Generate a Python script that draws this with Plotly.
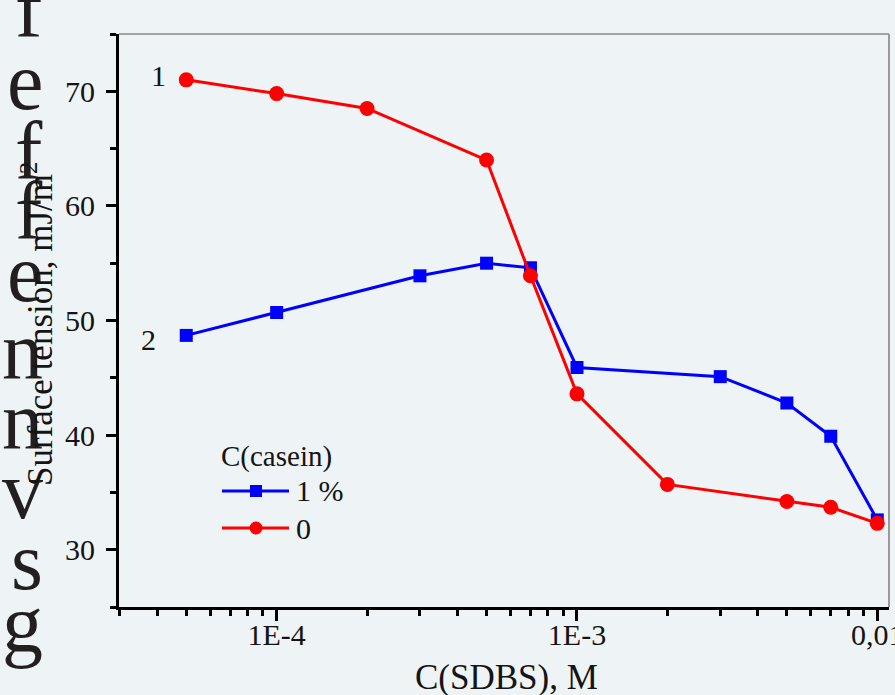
import plotly.graph_objects as go

# ---------------- data ----------------
x_casein = [5e-5, 1e-4, 3e-4, 5e-4, 7e-4, 1e-3, 3e-3, 5e-3, 7e-3, 1e-2]
y_casein = [48.7, 50.7, 53.9, 55.0, 54.6, 45.9, 45.1, 42.8, 39.9, 32.6]
x_water = [5e-5, 1e-4, 2e-4, 5e-4, 7e-4, 1e-3, 2e-3, 5e-3, 7e-3, 1e-2]
y_water = [71.0, 69.8, 68.5, 64.0, 53.9, 43.6, 35.7, 34.2, 33.7, 32.3]

x_tickvals = [1e-4, 1e-3, 1e-2]
x_ticktext = ["1E-4", "1E-3", "0,01"]
x_minor = [3e-5, 4e-5, 5e-5, 6e-5, 7e-5, 8e-5, 9e-5,
           2e-4, 3e-4, 4e-4, 5e-4, 6e-4, 7e-4, 8e-4, 9e-4,
           2e-3, 3e-3, 4e-3, 5e-3, 6e-3, 7e-3, 8e-3, 9e-3]
y_tickvals = [30, 40, 50, 60, 70]
y_minor = [25, 35, 45, 55, 65, 75]

series_names = ["1 %", "0"]
legend_title = "C(casein)"
curve_labels = ["1", "2"]
side_letters = ["f", "e", "f", "f", "e", "n", "n", "v", "s", "g"]

# ---------------- layout helpers ----------------
W, H = 895, 695
L, R, T, B = 119, 889, 34, 607
PW, PH = R - L, B - T

def px(x):
    return (x - L) / PW

def py(y):
    return (B - y) / PH

BLUE = "#0000ff"
RED = "#ff0000"
BG = "#eef3f6"
TXT = "#141414"
FONT = "Liberation Serif"

fig = go.Figure()
fig.add_trace(go.Scatter(
    x=x_casein, y=y_casein, mode="lines+markers", name=series_names[0],
    line=dict(color=BLUE, width=3),
    marker=dict(symbol="square", size=13, color=BLUE),
    showlegend=False,
))
fig.add_trace(go.Scatter(
    x=x_water, y=y_water, mode="lines+markers", name=series_names[1],
    line=dict(color=RED, width=3),
    marker=dict(symbol="circle", size=15, color=RED),
    showlegend=False,
))

fig.update_layout(
    width=W, height=H,
    margin=dict(l=L, r=W - R, t=T, b=H - B, autoexpand=False),
    paper_bgcolor=BG, plot_bgcolor=BG,
    font=dict(family=FONT, color=TXT, size=28),
    showlegend=False,
)

fig.update_xaxes(
    type="log", range=[-4.525, -1.961], automargin=False,
    tickmode="array", tickvals=x_tickvals, ticktext=x_ticktext,
    ticks="outside", ticklen=11, tickwidth=3, tickcolor="black",
    showline=True, linecolor="black", linewidth=3,
    showgrid=False, zeroline=False,
    tickfont=dict(size=30, family=FONT, color=TXT),
    ticklabelstandoff=-12, ticklabeloverflow="allow",
    minor=dict(tickmode="array", tickvals=x_minor, ticks="outside",
               ticklen=6, tickwidth=3, tickcolor="black", showgrid=False),
)
fig.update_yaxes(
    range=[25, 75], automargin=False,
    tickmode="array", tickvals=y_tickvals,
    ticks="outside", ticklen=10, tickwidth=3, tickcolor="black",
    showline=True, linecolor="black", linewidth=3,
    showgrid=False, zeroline=False,
    tickfont=dict(size=30, family=FONT, color=TXT),
    ticklabelstandoff=5,
    minor=dict(tickmode="array", tickvals=y_minor, ticks="outside",
               ticklen=6, tickwidth=3, tickcolor="black", showgrid=False),
)

# top and right thin frame
fig.add_shape(type="line", xref="paper", yref="paper", x0=0, x1=1, y0=1, y1=1,
              line=dict(color="#555555", width=1))
fig.add_shape(type="line", xref="paper", yref="paper", x0=1, x1=1, y0=0, y1=1,
              line=dict(color="#999999", width=2))

ann = []
# cropped letters of surrounding text at the left edge (drawn first, behind)
letter_baselines = [36, 108, 178, 238, 300, 377, 447, 517, 588, 650]
for ch, bl in zip(side_letters, letter_baselines):
    ann.append(dict(text=ch, x=px(45), y=py(bl), xref="paper", yref="paper",
                    showarrow=False, xanchor="right", yanchor="bottom",
                    yshift=-21,
                    font=dict(size=82, family=FONT, color="#231f20")))
# axis titles
ann.append(dict(text="C(SDBS), M", x=px(506), y=py(677), xref="paper", yref="paper",
                showarrow=False, xanchor="center", yanchor="middle",
                font=dict(size=35, family=FONT, color=TXT)))
ann.append(dict(text="Surface tension, mJ/m<sup>2</sup>", x=px(37), y=py(324),
                xref="paper", yref="paper", textangle=-90,
                showarrow=False, xanchor="center", yanchor="middle",
                font=dict(size=35, family=FONT, color=TXT)))
# curve labels
ann.append(dict(text=curve_labels[0], x=px(158), y=py(76), xref="paper", yref="paper",
                showarrow=False, xanchor="center", yanchor="middle",
                font=dict(size=30, family=FONT, color=TXT)))
ann.append(dict(text=curve_labels[1], x=px(148), y=py(339), xref="paper", yref="paper",
                showarrow=False, xanchor="center", yanchor="middle",
                font=dict(size=30, family=FONT, color=TXT)))

# manual legend
ann.append(dict(text=legend_title, x=px(219), y=py(456), xref="paper", yref="paper",
                showarrow=False, xanchor="left", yanchor="middle",
                font=dict(size=29, family=FONT, color=TXT)))
ann.append(dict(text=series_names[0], x=px(294), y=py(491), xref="paper", yref="paper",
                showarrow=False, xanchor="left", yanchor="middle",
                font=dict(size=30, family=FONT, color=TXT)))
ann.append(dict(text=series_names[1], x=px(294), y=py(528), xref="paper", yref="paper",
                showarrow=False, xanchor="left", yanchor="middle",
                font=dict(size=30, family=FONT, color=TXT)))
for yy, col in [(491, BLUE), (528, RED)]:
    fig.add_shape(type="line", xref="paper", yref="paper",
                  x0=px(222), x1=px(289), y0=py(yy), y1=py(yy),
                  line=dict(color=col, width=3))
fig.add_shape(type="rect", xref="paper", yref="paper",
              x0=px(250), x1=px(262), y0=py(497), y1=py(485),
              fillcolor=BLUE, line=dict(width=0))
fig.add_shape(type="circle", xref="paper", yref="paper",
              x0=px(249.5), x1=px(262.5), y0=py(534.5), y1=py(521.5),
              fillcolor=RED, line=dict(width=0))

fig.update_layout(annotations=ann)
fig.write_html(
    "out.html",
    config={"displayModeBar": False},
    post_script="document.body.style.margin='0';document.body.style.background='%s';" % BG,
)
